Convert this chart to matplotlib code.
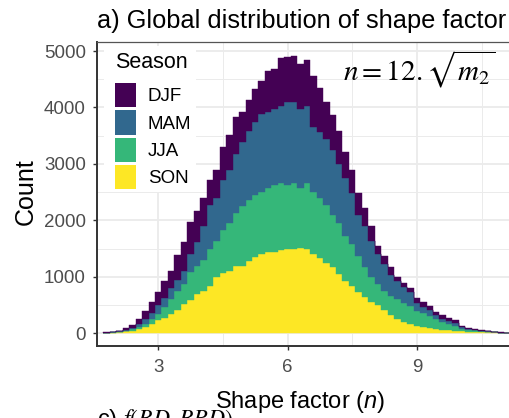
import numpy as np
import matplotlib
matplotlib.use('Agg')
import matplotlib.pyplot as plt
from matplotlib.patches import Patch, Rectangle
from matplotlib.ticker import MultipleLocator

# ---- data: stacked histogram of shape factor by season (bin width 0.15) ----
bin_start = 1.725
bin_width = 0.15
seasons = ['DJF', 'MAM', 'JJA', 'SON']
season_colors = ['#440154', '#31688E', '#35B779', '#FDE725']

SON = [5, 10, 18, 30, 42, 70, 111, 170, 228, 275, 345, 404, 509, 591, 696, 740,
       842, 988, 1064, 1105, 1187, 1187, 1281, 1351, 1409, 1444, 1444, 1468, 1485,
       1485, 1515, 1485, 1398, 1339, 1251, 1164, 1047, 930, 842, 725, 637, 550, 491,
       404, 320, 255, 199, 158, 129, 111, 94, 76, 64, 53, 41, 29, 23, 23, 18, 12, 12,
       6, 4]
JJA = [3, 3, 7, 15, 28, 41, 59, 87, 117, 187, 263, 351, 363, 485, 497, 555,
       643, 644, 772, 848, 942, 1059, 1082, 1099, 1100, 1123, 1182, 1187, 1141,
       1170, 1052, 1170, 1111, 1053, 1024, 935, 906, 789, 731, 643, 527, 438, 380,
       350, 340, 350, 330, 316, 270, 245, 215, 180, 140, 115, 85, 53, 41, 30, 17, 11, 4,
       2, 1]
MAM = [2, 3, 7, 15, 25, 55, 80, 95, 155, 158, 187, 195, 238, 324, 422, 605,
       790, 760, 877, 936, 1052, 1140, 1228, 1287, 1374, 1345, 1345, 1374, 1462,
       1433, 1404, 1374, 1140, 1169, 1169, 1141, 1053, 1024, 907, 731, 731, 644, 527,
       468, 370, 322, 285, 251, 140, 115, 95, 65, 55, 50, 55, 29, 18, 11, 6, 6, 3,
       2, 1]
DJF = [4, 4, 8, 25, 48, 92, 150, 191, 235, 305, 305, 440, 510, 575, 545, 492,
       438, 497, 585, 614, 644, 526, 544, 585, 585, 731, 713, 848, 807,
       818, 807, 819, 907, 790, 644, 626, 585, 468, 409, 381, 321, 263, 146,
       146, 140, 76, 76, 76, 87, 79, 70, 53, 57, 51, 59, 18, 17, 12, 12, 12, 5,
       2, 2]
series = {'DJF': DJF, 'MAM': MAM, 'JJA': JJA, 'SON': SON}

x_ticks = [3, 6, 9]
y_ticks = [0, 1000, 2000, 3000, 4000, 5000]

# ---- style ----
plt.rcParams['font.family'] = ['Liberation Sans', 'DejaVu Sans']
plt.rcParams['mathtext.fontset'] = 'custom'
plt.rcParams['mathtext.rm'] = 'Liberation Sans'
plt.rcParams['mathtext.it'] = 'Liberation Sans:italic'

W, H = 510, 418
fig = plt.figure(figsize=(W / 100, H / 100), dpi=100)


def fx(px):
    return px / W


def fy(py):
    return 1 - py / H


ax = fig.add_axes([fx(97), fy(346), fx(516) - fx(97), fy(42) - fy(346)])

edges = bin_start + bin_width * np.arange(len(SON) + 1)
base = np.zeros(len(SON))
for name in ['SON', 'JJA', 'MAM', 'DJF']:
    vals = np.asarray(series[name], dtype=float)
    col = season_colors[seasons.index(name)]
    ax.stairs(base + vals, edges, baseline=base, fill=True, facecolor=col,
              edgecolor=col, linewidth=0.3, zorder=2)
    base = base + vals

ax.set_xlim(1.58, 11.30)
ax.set_ylim(-228, 5160)
ax.set_xticks(x_ticks)
ax.set_yticks(y_ticks)
ax.xaxis.set_minor_locator(MultipleLocator(1.5))
ax.yaxis.set_minor_locator(MultipleLocator(500))
ax.set_axisbelow(True)
ax.grid(which='major', color='#EBEBEB', linewidth=1.3)
ax.grid(which='minor', color='#EBEBEB', linewidth=0.7)
ax.tick_params(which='minor', length=0)
ax.tick_params(which='major', length=3, width=1, color='#333333',
               labelcolor='#4D4D4D', labelsize=13.5)
ax.tick_params(axis='x', pad=6)
ax.tick_params(axis='y', pad=5)
for s in ['left', 'bottom']:
    ax.spines[s].set_color('#333333')
    ax.spines[s].set_linewidth(1.4)
ax.spines['top'].set_color('#555555')
ax.spines['top'].set_linewidth(0.9)
ax.spines['right'].set_visible(False)

# legend background
ax.add_patch(Rectangle((fx(104), fy(192)), fx(196) - fx(104), fy(46) - fy(192),
                       transform=fig.transFigure, facecolor='white',
                       edgecolor='none', zorder=1))
handles = [Patch(facecolor=c, edgecolor='none') for c in season_colors]
leg = ax.legend(handles, seasons, loc='upper left',
                bbox_to_anchor=(fx(115), fy(83)), bbox_transform=fig.transFigure,
                frameon=False, fontsize=13.5, handlelength=1.12, handleheight=1.62,
                labelspacing=0.16, handletextpad=0.62, borderpad=0,
                borderaxespad=0)
ax.text(fx(115), fy(68), 'Season', transform=fig.transFigure, fontsize=15.5,
        ha='left', va='baseline', zorder=5)

# annotation formula
ax.text(fx(343), fy(80), r'$n = 12.\sqrt{m_2}$', transform=fig.transFigure,
        math_fontfamily='stix', fontsize=21, ha='left', va='baseline', zorder=5)

# titles / labels
fig.text(fx(97), fy(28), 'a) Global distribution of shape factor',
         fontsize=18.3, ha='left', va='baseline')
fig.text(fx(26), fy(192), 'Count', rotation=90, fontsize=18,
         ha='center', va='center')
fig.text(fx(97), fy(426), r'c) $f(BD, BPD)$', math_fontfamily='stix',
         fontsize=17, ha='left', va='baseline')
fig.text(fx(300), fy(408), 'Shape factor ($n$)', fontsize=17,
         ha='center', va='baseline')

fig.savefig('out.png', dpi=100)
